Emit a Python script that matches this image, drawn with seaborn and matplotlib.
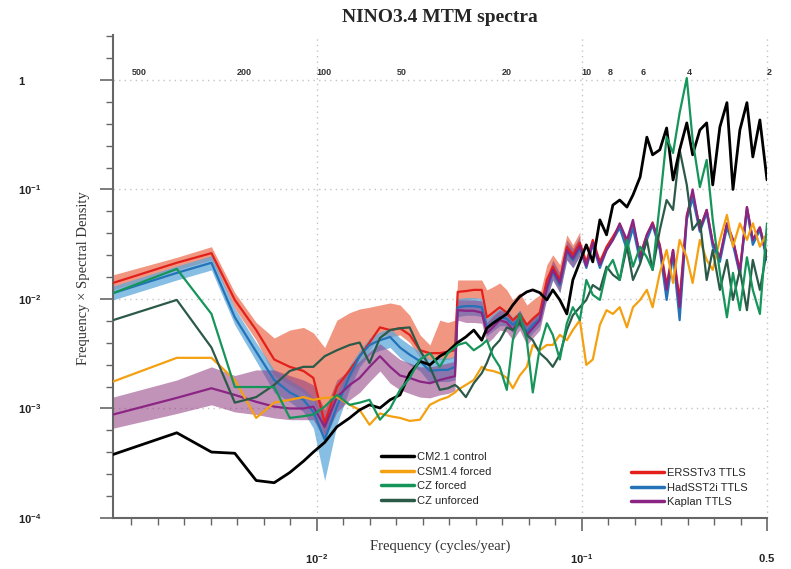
import matplotlib

matplotlib.use("Agg")

import matplotlib.pyplot as plt
import matplotlib.transforms as mtransforms
import numpy as np
import pandas as pd
import seaborn as sns
from matplotlib.lines import Line2D
from matplotlib.ticker import NullFormatter


# frequency grid (cycles/year) shared by all spectra
freq = [
    0.0017, 0.00296, 0.0040, 0.0049, 0.0059, 0.0069, 0.0079, 0.0089, 0.0097, 0.0107,
    0.0119, 0.0133, 0.0145, 0.0158, 0.0173, 0.0189, 0.0206, 0.0224, 0.0245, 0.0267,
    0.0291, 0.0312, 0.0332, 0.0340, 0.0365, 0.0391, 0.0419, 0.0438, 0.0462, 0.0490,
    0.0521, 0.0549, 0.0583, 0.0620, 0.0653, 0.0694, 0.0738, 0.0777, 0.0826, 0.0878,
    0.0925, 0.0983, 0.104, 0.110, 0.117, 0.124, 0.131, 0.139, 0.148, 0.156,
    0.166, 0.176, 0.185, 0.197, 0.209, 0.221, 0.234, 0.249, 0.262, 0.279,
    0.296, 0.312, 0.332, 0.353, 0.372, 0.395, 0.420, 0.442, 0.470, 0.500,
]

cm21_control = [
    0.00038, 0.00060, 0.00040, 0.00039, 0.00022, 0.00021, 0.00026, 0.00033, 0.00040, 0.00049,
    0.00068, 0.00082, 0.00097, 0.00108, 0.00101, 0.0012, 0.00133, 0.0021, 0.0027, 0.0025,
    0.0030, 0.0033, 0.0038, 0.0040, 0.0045, 0.0052, 0.0042, 0.0054, 0.0060, 0.0066,
    0.0073, 0.0088, 0.0105, 0.0116, 0.0121, 0.0114, 0.0098, 0.0121, 0.0098, 0.0073,
    0.0149, 0.0218, 0.0312, 0.0218, 0.0527, 0.0385, 0.072, 0.080, 0.069, 0.089,
    0.130, 0.30, 0.207, 0.230, 0.364, 0.122, 0.230, 0.405, 0.207, 0.349,
    0.405, 0.110, 0.372, 0.62, 0.100, 0.349, 0.62, 0.198, 0.431, 0.122,
]

csm14_forced = [
    0.00176, 0.0029, 0.0029, 0.00182, 0.00082, 0.00113, 0.0012, 0.00127, 0.0012, 0.00125,
    0.00127, 0.00108, 0.00097, 0.00071, 0.0009, 0.00085, 0.00082, 0.00077, 0.00079, 0.00108,
    0.0012, 0.00127, 0.0014, 0.00148, 0.00164, 0.00182, 0.0024, 0.00225, 0.0022, 0.0021,
    0.0019, 0.00153, 0.0020, 0.0024, 0.0038, 0.0034, 0.0038, 0.0038, 0.0047, 0.0042,
    0.0052, 0.0064, 0.0025, 0.0028, 0.0058, 0.0079, 0.0073, 0.0084, 0.0055, 0.0084,
    0.0098, 0.0121, 0.0084, 0.0173, 0.028, 0.014, 0.0346, 0.024, 0.014, 0.0346,
    0.0227, 0.0184, 0.0346, 0.0585, 0.030, 0.049, 0.0346, 0.049, 0.030, 0.040,
]

cz_forced = [
    0.0113, 0.0188, 0.0073, 0.00157, 0.00157, 0.00157, 0.00082, 0.00085, 0.00088, 0.00104,
    0.00133, 0.00108, 0.00113, 0.0012, 0.00079, 0.0010, 0.00148, 0.0019, 0.0028, 0.0032,
    0.0024, 0.0032, 0.0036, 0.0038, 0.0040, 0.0034, 0.0038, 0.0042, 0.0030, 0.0024,
    0.00148, 0.0042, 0.0073, 0.0042, 0.0014, 0.0036, 0.0060, 0.0047, 0.0028, 0.0060,
    0.0084, 0.0064, 0.0149, 0.0109, 0.0098, 0.0184, 0.0227, 0.0149, 0.0346, 0.0197,
    0.030, 0.024, 0.0184, 0.075, 0.30, 0.215, 0.50, 1.04, 0.283, 0.105,
    0.186, 0.0527, 0.0173, 0.0068, 0.0173, 0.0079, 0.024, 0.0121, 0.0073, 0.049,
]

cz_unforced = [
    0.0064, 0.0098, 0.0036, 0.00113, 0.00127, 0.00164, 0.0022, 0.0024, 0.0024, 0.0030,
    0.0034, 0.0038, 0.0040, 0.0026, 0.0044, 0.0052, 0.0054, 0.0055, 0.0034, 0.0024,
    0.00148, 0.00153, 0.00164, 0.00157, 0.00127, 0.0017, 0.0021, 0.0026, 0.0036, 0.0042,
    0.0055, 0.0052, 0.0060, 0.0047, 0.0042, 0.0032, 0.0028, 0.0024, 0.0031, 0.0052,
    0.0071, 0.0084, 0.0098, 0.0134, 0.0121, 0.0197, 0.0166, 0.0149, 0.030, 0.0149,
    0.021, 0.0346, 0.0184, 0.0427, 0.080, 0.065, 0.230, 0.110, 0.0427, 0.0527,
    0.0149, 0.028, 0.0121, 0.0227, 0.0098, 0.0184, 0.0079, 0.0227, 0.0121, 0.028,
]

ersst = [
    0.0140, 0.0214, 0.0262, 0.0098, 0.0052, 0.0028, 0.0024, 0.0022, 0.0019, 0.00074,
    0.00157, 0.00225, 0.0030, 0.0040, 0.0055, 0.0052, 0.0054, 0.0047, 0.0034, 0.0032,
    0.0032, 0.0033, 0.0034, 0.0116, 0.0118, 0.0121, 0.0121, 0.0068, 0.0075, 0.0084,
    0.0075, 0.0064, 0.0073, 0.0058, 0.0066, 0.0075, 0.0149, 0.0197, 0.0149, 0.030,
    0.0253, 0.0326, 0.0218, 0.0346, 0.0218, 0.030, 0.037, 0.0474, 0.0312, 0.0474,
    0.0253, 0.0385, 0.050, 0.0312, 0.0134, 0.028, 0.0098, 0.0585, 0.089, 0.0445,
    0.065, 0.0326, 0.024, 0.049, 0.0346, 0.0184, 0.069, 0.0346, 0.045, 0.0253,
]

hadsst = [
    0.0113, 0.0173, 0.0214, 0.0068, 0.0033, 0.00182, 0.0014, 0.0012, 0.00093, 0.00052,
    0.00104, 0.0020, 0.0030, 0.0038, 0.0042, 0.0045, 0.0036, 0.0031, 0.0027, 0.0022,
    0.00225, 0.00225, 0.0024, 0.0084, 0.0086, 0.0086, 0.0084, 0.0055, 0.0061, 0.0068,
    0.0066, 0.0058, 0.0066, 0.0050, 0.0058, 0.0066, 0.0121, 0.0177, 0.0134, 0.027,
    0.0227, 0.029, 0.0192, 0.0312, 0.0192, 0.028, 0.0346, 0.0445, 0.028, 0.0445,
    0.0218, 0.0346, 0.0474, 0.028, 0.0098, 0.0253, 0.0064, 0.0527, 0.083, 0.041,
    0.061, 0.030, 0.0218, 0.045, 0.0312, 0.0166, 0.065, 0.0312, 0.0427, 0.0227,
]

kaplan = [
    0.00088, 0.00125, 0.00153, 0.00133, 0.00115, 0.00104, 0.0010, 0.0010, 0.00104, 0.00068,
    0.00127, 0.00164, 0.0019, 0.0024, 0.0030, 0.0024, 0.0020, 0.0019, 0.00176, 0.0017,
    0.00182, 0.0019, 0.00197, 0.0079, 0.0078, 0.0078, 0.0075, 0.0049, 0.0055, 0.0064,
    0.0061, 0.0052, 0.0064, 0.0047, 0.0054, 0.0064, 0.0126, 0.0184, 0.0140, 0.028,
    0.0235, 0.0305, 0.020, 0.0326, 0.0205, 0.028, 0.0346, 0.049, 0.0346, 0.0527,
    0.024, 0.0385, 0.049, 0.030, 0.0121, 0.028, 0.0084, 0.056, 0.100, 0.0427,
    0.065, 0.0326, 0.024, 0.049, 0.0346, 0.0173, 0.069, 0.0346, 0.045, 0.024,
]

# uncertainty bands of the observational spectra (first part of the grid)
ersst_hi = [
    0.0166, 0.024, 0.030, 0.0114, 0.0061, 0.0044, 0.0052, 0.0055, 0.0049, 0.0036,
    0.0064, 0.0075, 0.0081, 0.0084, 0.0088, 0.0092, 0.0088, 0.0071, 0.0047, 0.0038,
    0.0064, 0.0061, 0.0064, 0.0149, 0.0149, 0.0149, 0.0149, 0.0121, 0.0129, 0.0140,
    0.0121, 0.0098, 0.0114, 0.0088, 0.0098, 0.0109, 0.0205, 0.0253, 0.0205, 0.0385,
    0.0312, 0.041,
]
ersst_lo = [
    0.0121, 0.0184, 0.0227, 0.0082, 0.0042, 0.0020, 0.00164, 0.0014, 0.0012, 0.00058,
    0.00133, 0.0019, 0.0026, 0.0034, 0.0047, 0.0045, 0.0047, 0.0040, 0.0029, 0.0028,
    0.0028, 0.0028, 0.0029, 0.0098, 0.0098, 0.0101, 0.0101, 0.0058, 0.0064, 0.0071,
    0.0064, 0.0054, 0.0061, 0.0049, 0.0056, 0.0064, 0.0121, 0.0166, 0.0121, 0.0253,
    0.0214, 0.027,
]
hadsst_hi = [
    0.0131, 0.020, 0.0248, 0.0082, 0.0040, 0.00225, 0.00182, 0.00153, 0.00125, 0.00079,
    0.00133, 0.0025, 0.0034, 0.0044, 0.0050, 0.0054, 0.0044, 0.0038, 0.0033, 0.0028,
    0.0029, 0.0029, 0.0030, 0.0101, 0.0103, 0.0103, 0.0101, 0.0066, 0.0073, 0.0082,
    0.0079, 0.0068, 0.0079, 0.0060, 0.0068, 0.0079, 0.0144, 0.021, 0.0157, 0.0318,
    0.027, 0.0346,
]
hadsst_lo = [
    0.0098, 0.0149, 0.0184, 0.0058, 0.0027, 0.0014, 0.00115, 0.00093, 0.00066, 0.00022,
    0.00071, 0.00153, 0.0024, 0.0031, 0.0034, 0.0036, 0.0029, 0.0025, 0.0022, 0.0017,
    0.00176, 0.00176, 0.00182, 0.0069, 0.0071, 0.0071, 0.0069, 0.0046, 0.0051, 0.0057,
    0.0057, 0.0049, 0.0057, 0.0042, 0.0049, 0.0057, 0.0101, 0.0149, 0.0114, 0.0227,
    0.0192, 0.0248,
]
kaplan_hi = [
    0.00127, 0.00182, 0.0024, 0.0020, 0.00225, 0.00225, 0.0020, 0.00182, 0.00164, 0.00097,
    0.00182, 0.00225, 0.0027, 0.0033, 0.0039, 0.0033, 0.0028, 0.0026, 0.0024, 0.0024,
    0.0025, 0.0026, 0.0027, 0.0098, 0.0098, 0.0098, 0.0096, 0.0061, 0.0070, 0.0079,
    0.0075, 0.0064, 0.0079, 0.0058, 0.0066, 0.0079, 0.0155, 0.0227, 0.0173, 0.0346,
    0.029, 0.0377,
]
kaplan_lo = [
    0.00066, 0.0009, 0.00108, 0.00093, 0.00088, 0.00082, 0.00079, 0.00079, 0.00079, 0.00052,
    0.00093, 0.0012, 0.0014, 0.00176, 0.0022, 0.0017, 0.00148, 0.00137, 0.00127, 0.00125,
    0.00133, 0.00137, 0.00145, 0.0064, 0.0061, 0.0061, 0.0060, 0.0039, 0.0044, 0.0052,
    0.0050, 0.0042, 0.0052, 0.0038, 0.0044, 0.0052, 0.0101, 0.0149, 0.0114, 0.0227,
    0.0192, 0.0248,
]

periods = [500, 200, 100, 50, 20, 10, 8, 6, 4, 2]

model_labels = ["CM2.1 control", "CSM1.4 forced", "CZ forced", "CZ unforced"]
obs_labels = ["ERSSTv3 TTLS", "HadSST2i TTLS", "Kaplan TTLS"]

colors = {
    "CM2.1 control": "#000000",
    "CSM1.4 forced": "#f5a010",
    "CZ forced": "#15955a",
    "CZ unforced": "#2c5a48",
    "ERSSTv3 TTLS": "#e3201b",
    "HadSST2i TTLS": "#2473b8",
    "Kaplan TTLS": "#8b2584",
}

band_colors = {
    "ERSSTv3 TTLS": ("#f08c73", 0.9),
    "HadSST2i TTLS": ("#5ea8dc", 0.75),
    "Kaplan TTLS": ("#8f3a80", 0.55),
}


def main():
    sns.set_theme(style="white")
    plt.rcParams["font.family"] = ["Liberation Sans", "DejaVu Sans"]
    plt.rcParams["mathtext.fontset"] = "custom"
    plt.rcParams["mathtext.rm"] = "Liberation Sans"
    plt.rcParams["mathtext.bf"] = "Liberation Sans:bold"

    df = pd.DataFrame(
        {
            "freq": freq,
            "CM2.1 control": cm21_control,
            "CSM1.4 forced": csm14_forced,
            "CZ forced": cz_forced,
            "CZ unforced": cz_unforced,
            "ERSSTv3 TTLS": ersst,
            "HadSST2i TTLS": hadsst,
            "Kaplan TTLS": kaplan,
        }
    ).melt(id_vars="freq", var_name="series", value_name="psd")

    bands = {
        "ERSSTv3 TTLS": (ersst_lo, ersst_hi),
        "HadSST2i TTLS": (hadsst_lo, hadsst_hi),
        "Kaplan TTLS": (kaplan_lo, kaplan_hi),
    }

    fig = plt.figure(figsize=(7.91, 5.69), dpi=100)
    ax = fig.add_axes([113 / 791, 1 - 518 / 569, (767 - 113) / 791, (518 - 35) / 569])
    ax.set_xscale("log")
    ax.set_yscale("log")

    for name, (lo, hi) in bands.items():
        col, alpha = band_colors[name]
        ax.fill_between(freq[: len(lo)], lo, hi, color=col, alpha=alpha, lw=0, zorder=1)

    draw_order = obs_labels + ["CSM1.4 forced", "CZ unforced", "CM2.1 control", "CZ forced"]
    for name in draw_order:
        sns.lineplot(
            data=df[df["series"] == name],
            x="freq",
            y="psd",
            color=colors[name],
            linewidth=2.0 if name == "CM2.1 control" else 1.6,
            estimator=None,
            sort=False,
            legend=False,
            ax=ax,
            zorder=3,
        )

    ax.set_xlim(0.0017, 0.5)
    ax.set_ylim(1e-4, 2.57)

    # grid
    for yv in [1e-3, 1e-2, 1e-1, 1]:
        ax.axhline(yv, color="#c4c4c4", ls=(0, (1, 3)), lw=1.0, zorder=0)
    for xv in [0.01, 0.1, 0.5]:
        ax.axvline(xv, color="#c4c4c4", ls=(0, (1, 3)), lw=1.0, zorder=0, clip_on=False)

    # ticks
    ax.set_xticks([0.01, 0.1, 0.5])
    ax.set_xticklabels([r"$\mathbf{10^{-2}}$", r"$\mathbf{10^{-1}}$", r"$\mathbf{0.5}$"])
    x_minor = [10 ** e for e in np.round(np.arange(-2.7, -0.35, 0.1), 1) if e not in (-2.0, -1.0)]
    ax.set_xticks(x_minor, minor=True)
    ax.xaxis.set_minor_formatter(NullFormatter())

    ax.set_yticks([1e-4, 1e-3, 1e-2, 1e-1, 1])
    ax.set_yticklabels(
        [r"$\mathbf{10^{-4}}$", r"$\mathbf{10^{-3}}$", r"$\mathbf{10^{-2}}$",
         r"$\mathbf{10^{-1}}$", r"$\mathbf{1}$"]
    )
    y_minor = [10 ** e for e in np.round(np.arange(-3.8, 0.45, 0.2), 1) if abs(e - round(e)) > 0.01]
    ax.set_yticks(y_minor, minor=True)
    ax.yaxis.set_minor_formatter(NullFormatter())

    ax.tick_params(axis="both", which="major", direction="out", length=9.5, width=1.2,
                   color="#666666", labelsize=8, labelcolor="#222222",
                   bottom=True, left=True)
    ax.tick_params(axis="both", which="minor", direction="out", length=5, width=1.0,
                   color="#666666", bottom=True, left=True)
    ax.tick_params(axis="y", which="major", pad=59)
    ax.tick_params(axis="x", which="major", pad=15)
    for lab in ax.get_yticklabels():
        lab.set_horizontalalignment("left")

    for side in ["top", "right"]:
        ax.spines[side].set_visible(False)
    for side in ["left", "bottom"]:
        ax.spines[side].set_color("#666666")
        ax.spines[side].set_linewidth(1.5)

    ax.set_xlabel("")
    ax.set_ylabel("")

    # period labels along the top
    trans = mtransforms.blended_transform_factory(ax.transData, ax.transAxes)
    for p in periods:
        ax.text(1.0 / p, 0.923, str(p), transform=trans, ha="left", va="center",
                fontsize=6.5, fontweight="bold", color="#333333")

    fig.text(440 / 791, 1 - 17 / 569, "NINO3.4 MTM spectra", ha="center", va="center",
             fontsize=14, fontweight="bold", family="Liberation Serif")
    fig.text(440 / 791, 1 - 546 / 569, "Frequency (cycles/year)", ha="center", va="center",
             fontsize=10.5, family="Liberation Serif", color="#333333")
    fig.text(83 / 791, 1 - 278 / 569, "Frequency \u00d7 Spectral Density", ha="center",
             va="center", rotation=90, fontsize=10.5, family="Liberation Serif",
             color="#333333")

    # legends
    def handles(names):
        return [Line2D([], [], color=colors[n], lw=2.5) for n in names]

    leg_kw = dict(
        loc="upper left",
        frameon=False,
        fontsize=8,
        handlelength=3.0,
        handletextpad=0.2,
        labelspacing=0.42,
        borderpad=0,
        borderaxespad=0,
    )
    fig.legend(handles(model_labels), model_labels,
               bbox_to_anchor=(381 / 791, 1 - 452 / 569), **leg_kw)
    fig.legend(handles(obs_labels), obs_labels,
               bbox_to_anchor=(631 / 791, 1 - 468 / 569), **leg_kw)

    fig.savefig("out.png", dpi=100)
    plt.close(fig)


if __name__ == "__main__":
    main()
